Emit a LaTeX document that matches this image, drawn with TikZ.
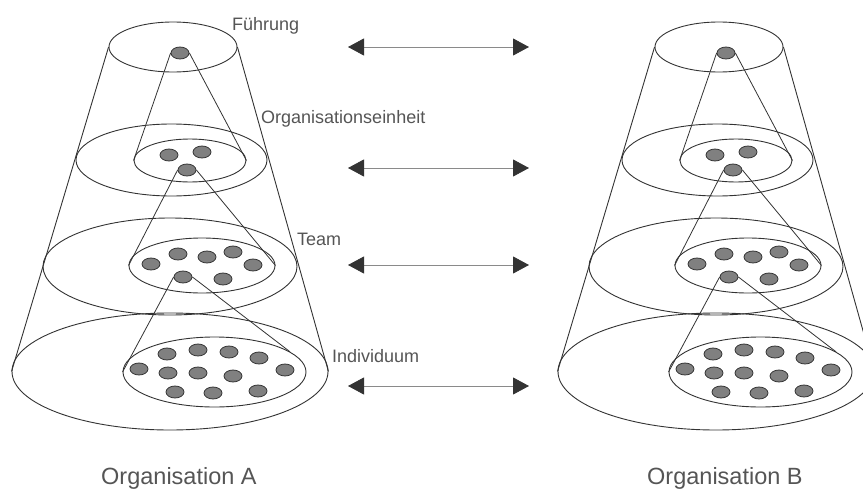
\documentclass[tikz,border=0pt]{standalone}
\usepackage{fontspec}
\setmainfont{Liberation Sans}
\usetikzlibrary{shapes.geometric,arrows.meta}

\definecolor{ink}{HTML}{333333}
\definecolor{dotfill}{HTML}{808080}
\definecolor{labelgray}{HTML}{555555}
\definecolor{shaft}{HTML}{8A8A8A}

\tikzset{
  layer/.style={draw=ink, line width=0.9pt, ellipse, inner sep=0pt},
  member/.style={draw=ink, fill=dotfill, line width=0.8pt, ellipse, inner sep=0pt,
                 minimum width=18pt, minimum height=12pt},
  link/.style={draw=ink, line width=0.8pt},
  levellabel/.style={text=labelgray, font=\fontsize{18}{20}\selectfont,
                     anchor=base west, inner sep=0pt},
  orglabel/.style={text=labelgray, font=\fontsize{23.5}{26}\selectfont,
                   anchor=base west, inner sep=0pt},
  exchange/.style={draw=shaft, line width=0.8pt,
    {Triangle[length=16pt,width=17pt,color=ink]}-{Triangle[length=16pt,width=17pt,color=ink]}},
  % one organisation: four stacked levels inside a cone
  cone/.pic={
    % levels
    \node[layer, minimum width=128pt, minimum height=50pt]  (-top)    at (173,47)    {};
    \node[layer, minimum width=191pt, minimum height=72pt]  (-org)    at (171.5,160) {};
    \node[layer, minimum width=112pt, minimum height=43pt]  (-orgin)  at (190,160.5) {};
    \node[layer, minimum width=254pt, minimum height=97pt]  (-team)   at (170,266.5) {};
    \node[layer, minimum width=146pt, minimum height=55pt]  (-teamin) at (202,265.5) {};
    \node[layer, minimum width=316pt, minimum height=117pt] (-ind)    at (170,371.5) {};
    \node[layer, minimum width=183pt, minimum height=70pt]  (-indin)  at (214.5,372) {};
    % cone sides
    \draw[link, line width=0.9pt] (-top.west) -- (-ind.west);
    \draw[link, line width=0.9pt] (-top.east) -- (-ind.east);
    % members
    \node[member] (-lead) at (180,53) {};
    \node[member] at (169,155) {};
    \node[member] at (202,152) {};
    \node[member] (-unit) at (187,170) {};
    \node[member] at (151,264) {};
    \node[member] at (178,254) {};
    \node[member] at (207,257) {};
    \node[member] at (233,252) {};
    \node[member] at (253,265) {};
    \node[member] (-mate) at (183,277) {};
    \node[member] at (223,279) {};
    \node[member] at (167,354) {};
    \node[member] at (198,350) {};
    \node[member] at (229,352) {};
    \node[member] at (259,358) {};
    \node[member] at (139,369) {};
    \node[member] at (168,373) {};
    \node[member] at (198,373) {};
    \node[member] at (233,376) {};
    \node[member] at (285,370) {};
    \node[member] at (175,392) {};
    \node[member] at (213,393) {};
    \node[member] at (258,391) {};
    % zoom lines from a member to the level below
    \draw[link] (-lead.west) -- (-orgin.west);
    \draw[link] (-lead.east) -- (-orgin.east);
    \draw[link] (-unit.west) -- (-teamin.west);
    \draw[link] (-unit.east) -- (-teamin.east);
    \draw[link] (-mate.west) -- (-indin.west);
    \draw[link] (-mate.east) -- (-indin.15);
  }
}

\begin{document}
\begin{tikzpicture}[x=1pt, y=-1pt]
  \useasboundingbox (0,0) rectangle (863,490);
  \clip (0,0) rectangle (863,490);

  \pic (A) at (0,0)   {cone};
  \pic (B) at (546,0) {cone};

  % level names
  \node[levellabel] (lfuehrung) at (232,30)  {Führung};
  \node[levellabel] (lorg)      at (261,123) {Organisationseinheit};
  \node[levellabel] (lteam)     at (297,245) {Team};
  \node[levellabel] (lind)      at (332,362) {Individuum};

  % exchange between the two organisations on each level
  \coordinate (e1l) at (348,47);  \coordinate (e1r) at (529,47);
  \coordinate (e2l) at (348,168); \coordinate (e2r) at (529,168);
  \coordinate (e3l) at (348,265); \coordinate (e3r) at (529,265);
  \coordinate (e4l) at (348,386); \coordinate (e4r) at (529,386);
  \draw[exchange] (e1l) -- (e1r);
  \draw[exchange] (e2l) -- (e2r);
  \draw[exchange] (e3l) -- (e3r);
  \draw[exchange] (e4l) -- (e4r);

  % organisation names
  \node[orglabel] (nameA) at (101,484) {Organisation A};
  \node[orglabel] (nameB) at (647,484) {Organisation B};
\end{tikzpicture}
\end{document}
